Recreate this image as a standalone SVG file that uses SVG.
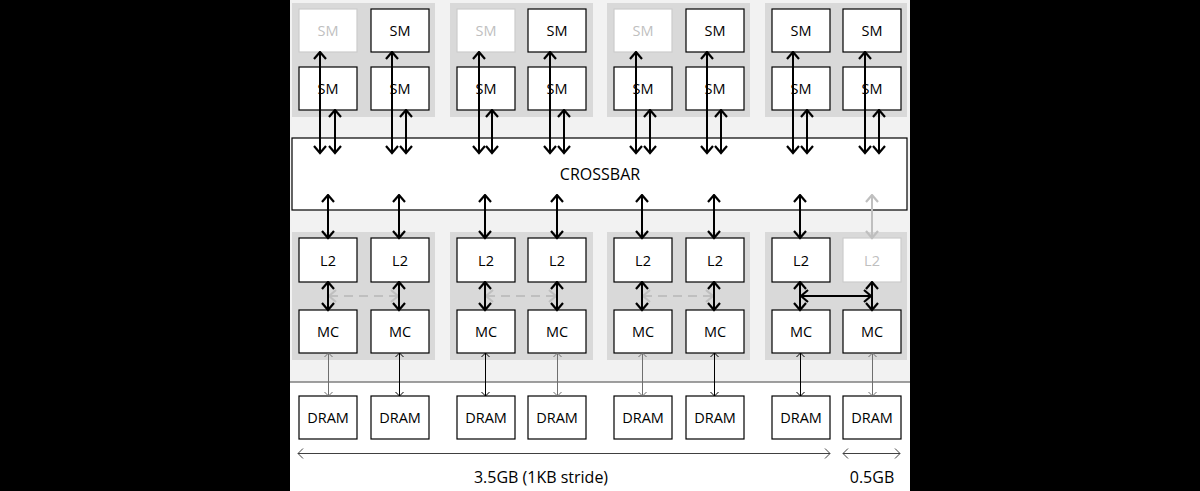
<svg xmlns="http://www.w3.org/2000/svg" width="1200" height="491" viewBox="0 0 1200 491">
<style>
.grp{fill:#d9d9d9}
.box rect{fill:#fff;stroke:#000;stroke-width:1.2}
.box text{font-family:"Open Sans","Liberation Sans",sans-serif;font-size:14.5px;fill:#000;text-anchor:middle;dominant-baseline:central}
.box.dim rect{stroke:#cccccc}
.box.dim text{fill:#bfbfbf}
.thick{stroke:#000;stroke-width:2;fill:none;marker-start:url(#ah);marker-end:url(#ah)}
.thickg{stroke:#bfbfbf;stroke-width:2;fill:none;marker-start:url(#ahg);marker-end:url(#ahg)}
.dash{stroke:#bfbfbf;stroke-width:2;fill:none;stroke-dasharray:9 6;marker-start:url(#ahg);marker-end:url(#ahg)}
.thin{stroke:#000;stroke-width:1;fill:none;marker-start:url(#at);marker-end:url(#at)}
.thing{stroke:#6f6f6f;stroke-width:1;fill:none;marker-start:url(#atg);marker-end:url(#atg)}
.dimln{stroke:#404040;stroke-width:1;fill:none;marker-start:url(#ad);marker-end:url(#ad)}
.lbl{font-family:"Open Sans","Liberation Sans",sans-serif;font-size:16px;fill:#000;text-anchor:middle;dominant-baseline:central}
</style>
<defs>
<marker id="ah" viewBox="0 -8 10 16" refX="8.5" refY="0" markerWidth="10" markerHeight="16" markerUnits="userSpaceOnUse" orient="auto-start-reverse"><path d="M1.5,-6 L8.5,0 L1.5,6" fill="none" stroke="#000" stroke-width="2.2"/></marker>
<marker id="ahg" viewBox="0 -8 10 16" refX="8.5" refY="0" markerWidth="10" markerHeight="16" markerUnits="userSpaceOnUse" orient="auto-start-reverse"><path d="M1.5,-6 L8.5,0 L1.5,6" fill="none" stroke="#bfbfbf" stroke-width="2.2"/></marker>
<marker id="at" viewBox="0 -5 10 10" refX="8" refY="0" markerWidth="10" markerHeight="10" markerUnits="userSpaceOnUse" orient="auto-start-reverse"><path d="M4,-4 L8,0 L4,4" fill="none" stroke="#000" stroke-width="1"/></marker>
<marker id="atg" viewBox="0 -5 10 10" refX="8" refY="0" markerWidth="10" markerHeight="10" markerUnits="userSpaceOnUse" orient="auto-start-reverse"><path d="M4,-4 L8,0 L4,4" fill="none" stroke="#6f6f6f" stroke-width="1"/></marker>
<marker id="ad" viewBox="0 -6 10 12" refX="8" refY="0" markerWidth="10" markerHeight="12" markerUnits="userSpaceOnUse" orient="auto-start-reverse"><path d="M3,-5 L8,0 L3,5" fill="none" stroke="#404040" stroke-width="1"/></marker>
</defs>
<rect x="0" y="0" width="1200" height="491" fill="#000"/>
<rect x="290" y="0" width="620" height="382" fill="#f2f2f2"/>
<rect x="290" y="382" width="620" height="109" fill="#fff"/>
<line x1="290" y1="382" x2="910" y2="382" stroke="#7f7f7f" stroke-width="1.5"/>
<g id="clusters">
<rect class="grp" x="292" y="3" width="143" height="114"/>
<rect class="grp" x="450" y="3" width="143" height="114"/>
<rect class="grp" x="607" y="3" width="143" height="114"/>
<rect class="grp" x="765" y="3" width="142" height="114"/>
<rect class="grp" x="292" y="232" width="143" height="128"/>
<rect class="grp" x="450" y="232" width="143" height="128"/>
<rect class="grp" x="607" y="232" width="143" height="128"/>
<rect class="grp" x="765" y="232" width="142" height="128"/>
</g>
<g id="sm-0" class="box dim"><rect x="299" y="9" width="58" height="43"/><text x="328" y="30.5">SM</text></g>
<g id="sm-1" class="box"><rect x="371" y="9" width="58" height="43"/><text x="400" y="30.5">SM</text></g>
<g id="sm-2" class="box"><rect x="299" y="67" width="58" height="43"/><text x="328" y="88.5">SM</text></g>
<g id="sm-3" class="box"><rect x="371" y="67" width="58" height="43"/><text x="400" y="88.5">SM</text></g>
<g id="sm-4" class="box dim"><rect x="457" y="9" width="58" height="43"/><text x="486" y="30.5">SM</text></g>
<g id="sm-5" class="box"><rect x="528" y="9" width="58" height="43"/><text x="557" y="30.5">SM</text></g>
<g id="sm-6" class="box"><rect x="457" y="67" width="58" height="43"/><text x="486" y="88.5">SM</text></g>
<g id="sm-7" class="box"><rect x="528" y="67" width="58" height="43"/><text x="557" y="88.5">SM</text></g>
<g id="sm-8" class="box dim"><rect x="614" y="9" width="58" height="43"/><text x="643" y="30.5">SM</text></g>
<g id="sm-9" class="box"><rect x="686" y="9" width="58" height="43"/><text x="715" y="30.5">SM</text></g>
<g id="sm-10" class="box"><rect x="614" y="67" width="58" height="43"/><text x="643" y="88.5">SM</text></g>
<g id="sm-11" class="box"><rect x="686" y="67" width="58" height="43"/><text x="715" y="88.5">SM</text></g>
<g id="sm-12" class="box"><rect x="772" y="9" width="58" height="43"/><text x="801" y="30.5">SM</text></g>
<g id="sm-13" class="box"><rect x="843" y="9" width="58" height="43"/><text x="872" y="30.5">SM</text></g>
<g id="sm-14" class="box"><rect x="772" y="67" width="58" height="43"/><text x="801" y="88.5">SM</text></g>
<g id="sm-15" class="box"><rect x="843" y="67" width="58" height="43"/><text x="872" y="88.5">SM</text></g>
<g id="crossbar"><rect x="292" y="138" width="615" height="72" fill="#fff" stroke="#000" stroke-width="1.2"/><text class="lbl" x="600" y="174">CROSSBAR</text></g>
<g id="l2-0" class="box"><rect x="299" y="238" width="58" height="44"/><text x="328" y="260">L2</text></g>
<g id="l2-1" class="box"><rect x="371" y="238" width="58" height="44"/><text x="400" y="260">L2</text></g>
<g id="l2-2" class="box"><rect x="457" y="238" width="58" height="44"/><text x="486" y="260">L2</text></g>
<g id="l2-3" class="box"><rect x="528" y="238" width="58" height="44"/><text x="557" y="260">L2</text></g>
<g id="l2-4" class="box"><rect x="614" y="238" width="58" height="44"/><text x="643" y="260">L2</text></g>
<g id="l2-5" class="box"><rect x="686" y="238" width="58" height="44"/><text x="715" y="260">L2</text></g>
<g id="l2-6" class="box"><rect x="772" y="238" width="58" height="44"/><text x="801" y="260">L2</text></g>
<g id="l2-7" class="box dim"><rect x="843" y="238" width="58" height="44"/><text x="872" y="260">L2</text></g>
<g id="mc-0" class="box"><rect x="299" y="310" width="58" height="43"/><text x="328" y="331.5">MC</text></g>
<g id="mc-1" class="box"><rect x="371" y="310" width="58" height="43"/><text x="400" y="331.5">MC</text></g>
<g id="mc-2" class="box"><rect x="457" y="310" width="58" height="43"/><text x="486" y="331.5">MC</text></g>
<g id="mc-3" class="box"><rect x="528" y="310" width="58" height="43"/><text x="557" y="331.5">MC</text></g>
<g id="mc-4" class="box"><rect x="614" y="310" width="58" height="43"/><text x="643" y="331.5">MC</text></g>
<g id="mc-5" class="box"><rect x="686" y="310" width="58" height="43"/><text x="715" y="331.5">MC</text></g>
<g id="mc-6" class="box"><rect x="772" y="310" width="58" height="43"/><text x="801" y="331.5">MC</text></g>
<g id="mc-7" class="box"><rect x="843" y="310" width="58" height="43"/><text x="872" y="331.5">MC</text></g>
<g id="dram-0" class="box"><rect x="299" y="396" width="58" height="43"/><text x="328" y="417.5">DRAM</text></g>
<g id="dram-1" class="box"><rect x="371" y="396" width="58" height="43"/><text x="400" y="417.5">DRAM</text></g>
<g id="dram-2" class="box"><rect x="457" y="396" width="58" height="43"/><text x="486" y="417.5">DRAM</text></g>
<g id="dram-3" class="box"><rect x="528" y="396" width="58" height="43"/><text x="557" y="417.5">DRAM</text></g>
<g id="dram-4" class="box"><rect x="614" y="396" width="58" height="43"/><text x="643" y="417.5">DRAM</text></g>
<g id="dram-5" class="box"><rect x="686" y="396" width="58" height="43"/><text x="715" y="417.5">DRAM</text></g>
<g id="dram-6" class="box"><rect x="772" y="396" width="58" height="43"/><text x="801" y="417.5">DRAM</text></g>
<g id="dram-7" class="box"><rect x="843" y="396" width="58" height="43"/><text x="872" y="417.5">DRAM</text></g>
<g id="connectors">
<line class="thick" x1="320" y1="52" x2="320" y2="153"/>
<line class="thick" x1="335" y1="110" x2="335" y2="153"/>
<line class="thick" x1="392" y1="52" x2="392" y2="153"/>
<line class="thick" x1="406" y1="110" x2="406" y2="153"/>
<line class="thick" x1="479" y1="52" x2="479" y2="153"/>
<line class="thick" x1="492" y1="110" x2="492" y2="153"/>
<line class="thick" x1="550" y1="52" x2="550" y2="153"/>
<line class="thick" x1="564" y1="110" x2="564" y2="153"/>
<line class="thick" x1="636" y1="52" x2="636" y2="153"/>
<line class="thick" x1="650" y1="110" x2="650" y2="153"/>
<line class="thick" x1="707" y1="52" x2="707" y2="153"/>
<line class="thick" x1="721" y1="110" x2="721" y2="153"/>
<line class="thick" x1="793" y1="52" x2="793" y2="153"/>
<line class="thick" x1="807" y1="110" x2="807" y2="153"/>
<line class="thick" x1="865" y1="52" x2="865" y2="153"/>
<line class="thick" x1="879" y1="110" x2="879" y2="153"/>
<line class="thick" x1="328" y1="195" x2="328" y2="238"/>
<line class="thick" x1="399" y1="195" x2="399" y2="238"/>
<line class="thick" x1="485" y1="195" x2="485" y2="238"/>
<line class="thick" x1="557" y1="195" x2="557" y2="238"/>
<line class="thick" x1="642" y1="195" x2="642" y2="238"/>
<line class="thick" x1="714" y1="195" x2="714" y2="238"/>
<line class="thick" x1="800" y1="195" x2="800" y2="238"/>
<line class="thickg" x1="872" y1="195" x2="872" y2="238"/>
<line class="dash" x1="329" y1="296" x2="398" y2="296"/>
<line class="dash" x1="486" y1="296" x2="556" y2="296"/>
<line class="dash" x1="643" y1="296" x2="713" y2="296"/>
<line class="thick" x1="801" y1="296" x2="871" y2="296"/>
<line class="thick" x1="328" y1="282" x2="328" y2="310"/>
<line class="thick" x1="399" y1="282" x2="399" y2="310"/>
<line class="thick" x1="485" y1="282" x2="485" y2="310"/>
<line class="thick" x1="557" y1="282" x2="557" y2="310"/>
<line class="thick" x1="642" y1="282" x2="642" y2="310"/>
<line class="thick" x1="714" y1="282" x2="714" y2="310"/>
<line class="thick" x1="800" y1="282" x2="800" y2="310"/>
<line class="thick" x1="872" y1="282" x2="872" y2="310"/>
<line class="thing" x1="328.5" y1="353" x2="328.5" y2="396"/>
<line class="thin" x1="399.5" y1="353" x2="399.5" y2="396"/>
<line class="thin" x1="485.5" y1="353" x2="485.5" y2="396"/>
<line class="thing" x1="557.5" y1="353" x2="557.5" y2="396"/>
<line class="thing" x1="642.5" y1="353" x2="642.5" y2="396"/>
<line class="thin" x1="714.5" y1="353" x2="714.5" y2="396"/>
<line class="thin" x1="800.5" y1="353" x2="800.5" y2="396"/>
<line class="thing" x1="872.5" y1="353" x2="872.5" y2="396"/>
<line class="dimln" x1="298" y1="453.5" x2="830" y2="453.5"/>
<line class="dimln" x1="843" y1="453.5" x2="900" y2="453.5"/>
</g>
<text class="lbl" x="541" y="477">3.5GB (1KB stride)</text>
<text class="lbl" x="872" y="477">0.5GB</text>
</svg>
